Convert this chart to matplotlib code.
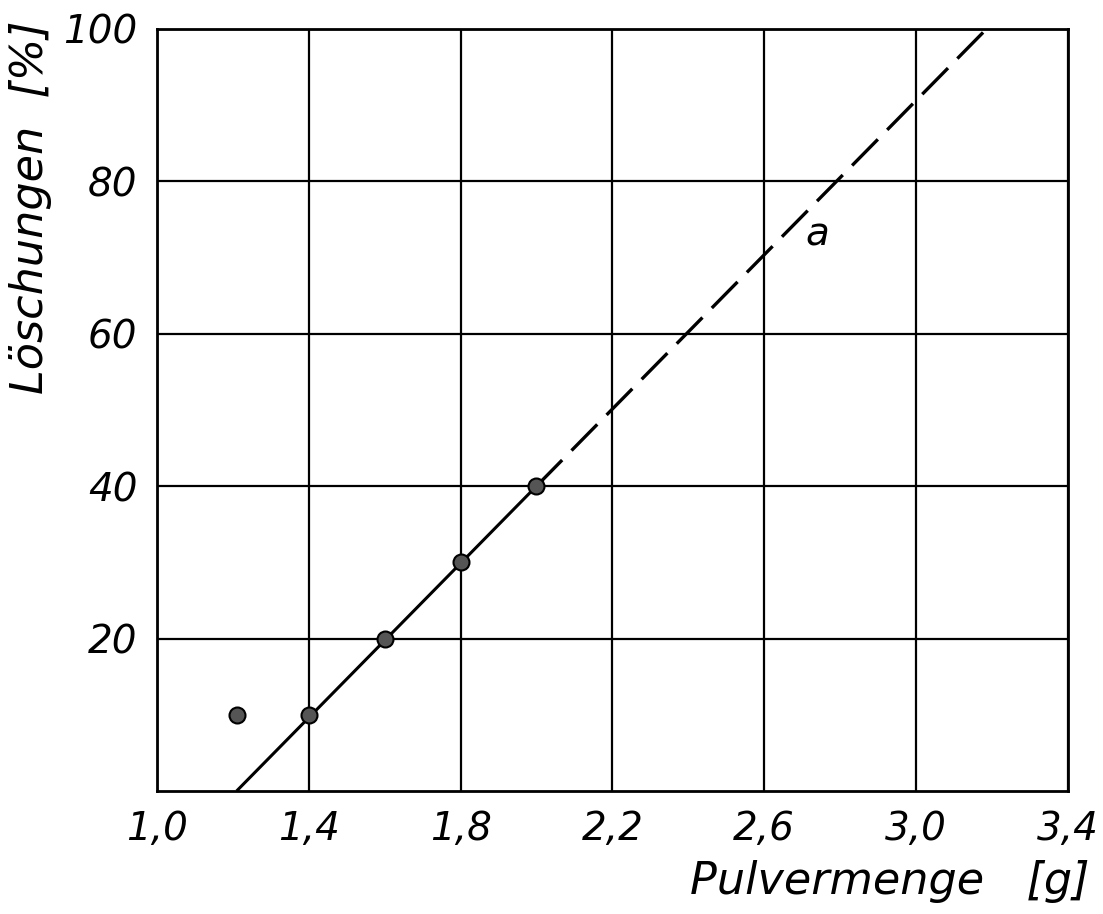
import matplotlib
matplotlib.use("Agg")
import matplotlib.pyplot as plt

# measured points (Pulvermenge g, Loeschungen %)
pulver = [1.21, 1.4, 1.6, 1.8, 2.0]
loesch = [10, 10, 20, 30, 40]

# fitted line a: solid part and dashed extrapolation
line_solid_x = [1.21, 2.0]
line_solid_y = [0, 40]
line_dash_x = [2.0, 3.186]
line_dash_y = [40, 100]

xticks = [1.0, 1.4, 1.8, 2.2, 2.6, 3.0, 3.4]
xtick_labels = ["1,0", "1,4", "1,8", "2,2", "2,6", "3,0", "3,4"]
yticks = [20, 40, 60, 80, 100]

plt.rcParams["font.family"] = ["DejaVu Sans"]

fig = plt.figure(figsize=(11.03, 9.14), dpi=100)
ax = fig.add_axes([0.1423, 0.1346, 0.8257, 0.8337])

ax.plot(line_solid_x, line_solid_y, color="black", lw=2.2, solid_capstyle="butt")
ax.plot(line_dash_x, line_dash_y, color="black", lw=2.4, dashes=(11, 4))
ax.plot(pulver, loesch, "o", ms=11.5, mfc="#555555", mec="black", mew=1.5, zorder=3)

ax.text(2.74, 73, "a", fontsize=28, style="italic", ha="center", va="center")

ax.set_xlim(1.0, 3.4)
ax.set_ylim(0, 100)
ax.set_xticks(xticks)
ax.set_xticklabels(xtick_labels)
ax.set_yticks(yticks)
ax.grid(True, color="black", lw=1.6)
ax.set_axisbelow(True)
ax.tick_params(length=0, pad=14, labelsize=28)
for lab in ax.get_xticklabels() + ax.get_yticklabels():
	lab.set_style("italic")
for s in ax.spines.values():
	s.set_linewidth(2)

fig.text(0.988, 0.036, "Pulvermenge   [g]", fontsize=32, style="italic", ha="right", va="center")
fig.text(0.028, 0.978, "Löschungen  [%]", fontsize=32, style="italic", rotation=90, ha="center", va="top")

fig.savefig("out.png", dpi=100)
